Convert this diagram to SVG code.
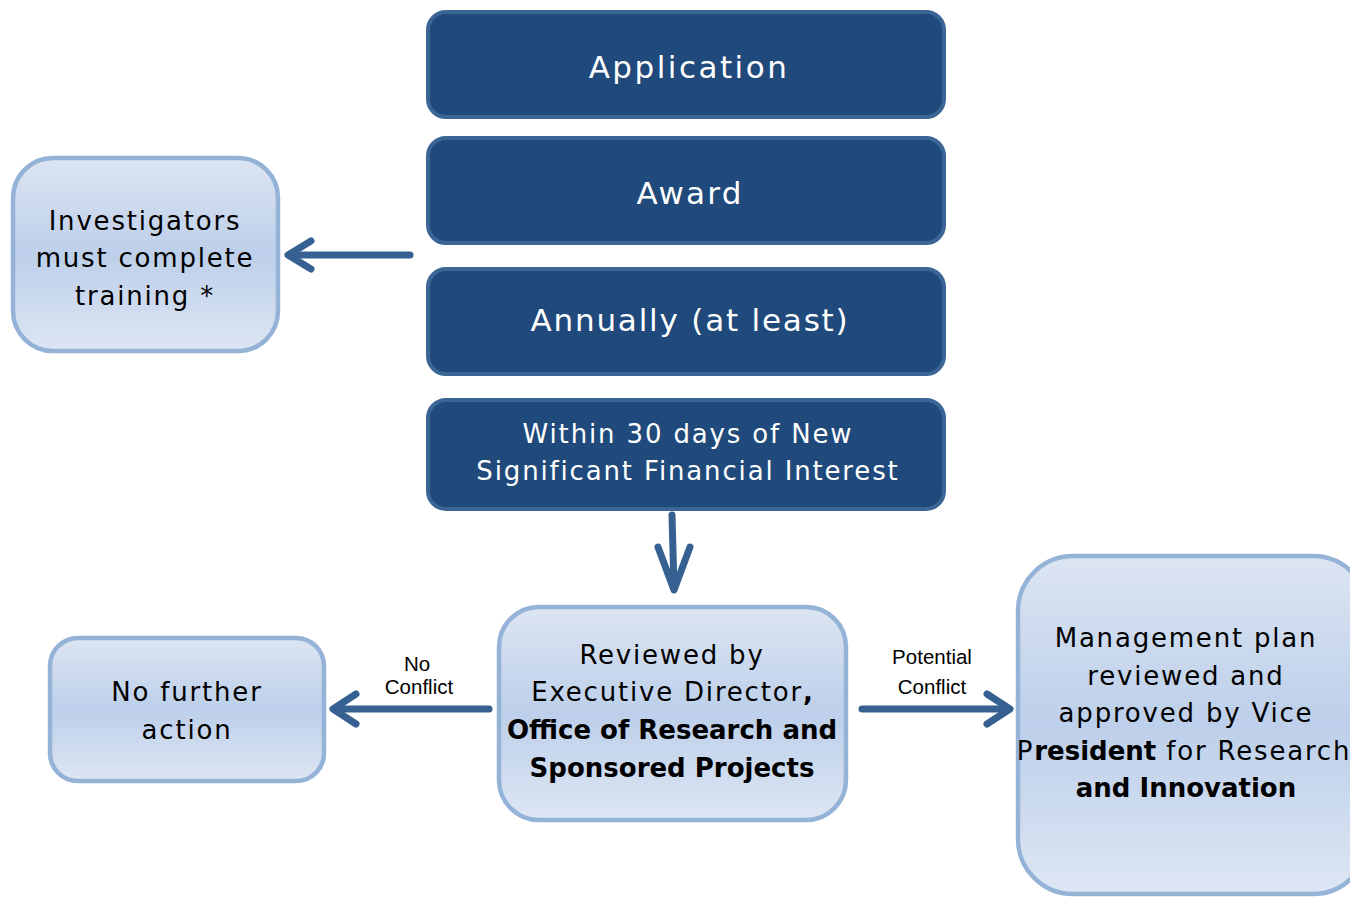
<svg xmlns="http://www.w3.org/2000/svg" width="1350" height="897" viewBox="0 0 1350 897">
<defs>
<linearGradient id="lg" x1="0" y1="0" x2="0" y2="1">
<stop offset="0" stop-color="#DCE5F2"/>
<stop offset="0.5" stop-color="#BDCFEA"/>
<stop offset="1" stop-color="#DDE6F3"/>
</linearGradient>
<style>
.dark{fill:#214A7C;stroke:#3B6595;stroke-width:4}
.light{fill:url(#lg);stroke:#95B3D7;stroke-width:4.5}
.wt{font-family:"DejaVu Sans",Verdana,sans-serif;fill:#FFFFFF;text-anchor:middle}
.bt{font-family:"DejaVu Sans",Verdana,sans-serif;fill:#000000;text-anchor:middle;font-size:26px;letter-spacing:1.8px}
.b{font-weight:bold;letter-spacing:0}
.lab{font-family:"Liberation Sans",Arial,sans-serif;font-size:20.5px;fill:#000;text-anchor:middle}
.ar{fill:none;stroke:#376092;stroke-width:7;stroke-linecap:round;stroke-linejoin:round}
</style>
</defs>
<rect width="1350" height="897" fill="#FFFFFF"/>
<g id="application">
<rect class="dark" x="428" y="12" width="516" height="105" rx="18"/>
<text class="wt" x="689" y="78" font-size="31" letter-spacing="2.5">Application</text>
</g>
<g id="award">
<rect class="dark" x="428" y="138" width="516" height="105" rx="18"/>
<text class="wt" x="690" y="204" font-size="31" letter-spacing="2.2">Award</text>
</g>
<g id="annually">
<rect class="dark" x="428" y="269" width="516" height="105" rx="18"/>
<text class="wt" x="690" y="331" font-size="31" letter-spacing="1.8">Annually (at least)</text>
</g>
<g id="within30">
<rect class="dark" x="428" y="400" width="516" height="109" rx="18"/>
<text class="wt" x="688" y="443" font-size="26" letter-spacing="1.85">Within 30 days of New</text>
<text class="wt" x="688" y="480" font-size="26" letter-spacing="1.85">Significant Financial Interest</text>
</g>
<g id="training">
<rect class="light" x="13" y="158" width="265" height="193" rx="40"/>
<text class="bt" x="145" y="230">Investigators</text>
<text class="bt" x="145" y="267">must complete</text>
<text class="bt" x="145" y="305">training *</text>
</g>
<g id="review">
<rect class="light" x="499" y="607" width="347" height="213" rx="40"/>
<text class="bt" x="672" y="664">Reviewed by</text>
<text class="bt" x="672" y="701">Executive Director<tspan class="b">,</tspan></text>
<text class="bt b" x="672" y="739">Office of Research and</text>
<text class="bt b" x="672" y="777">Sponsored Projects</text>
</g>
<g id="nofurther">
<rect class="light" x="50" y="638" width="274" height="143" rx="28"/>
<text class="bt" x="187" y="701">No further</text>
<text class="bt" x="187" y="739">action</text>
</g>
<g id="management">
<rect class="light" x="1018" y="556" width="350" height="338" rx="55"/>
<text class="bt" x="1186" y="647">Management plan</text>
<text class="bt" x="1186" y="685">reviewed and</text>
<text class="bt" x="1186" y="722">approved by Vice</text>
<text class="bt" x="1184" y="760" letter-spacing="1.3">P<tspan class="b">resident</tspan> for Research</text>
<text class="bt b" x="1186" y="797">and Innovation</text>
</g>
<g id="connectors">
<path class="ar" d="M410 255 H290" stroke-linecap="butt"/>
<path class="ar" d="M311 241 L288 255 L311 269"/>
<path class="ar" d="M672 515 L674 588" stroke-linecap="butt"/>
<path class="ar" d="M658 547 L674 590 L690 547" stroke-linejoin="miter"/>
<path class="ar" d="M489 709 H334" stroke-linecap="butt"/>
<path class="ar" d="M356 694 L333 709 L356 724"/>
<path class="ar" d="M862 709 H1008" stroke-linecap="butt"/>
<path class="ar" d="M987 694 L1010 709 L987 724"/>
<text class="lab" x="417" y="671">No</text>
<text class="lab" x="419" y="694">Conflict</text>
<text class="lab" x="932" y="664">Potential</text>
<text class="lab" x="932" y="694">Conflict</text>
</g>
</svg>
